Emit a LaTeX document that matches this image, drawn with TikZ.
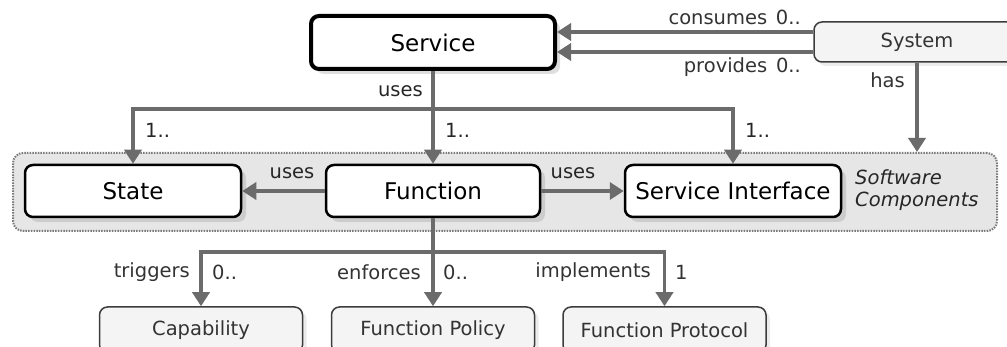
\documentclass[tikz,border=0pt]{standalone}
\usepackage{fontspec}
\setmainfont{DejaVu Sans}[ItalicFont=DejaVu Sans Oblique]
\usetikzlibrary{arrows.meta,shadows}

\definecolor{conngray}{HTML}{6B6B6B}
\definecolor{groupfill}{HTML}{E6E6E6}
\definecolor{groupline}{HTML}{7A7A7A}
\definecolor{leaffill}{HTML}{F4F4F4}
\definecolor{leafline}{HTML}{3C3C3C}
\definecolor{leaftext}{HTML}{333333}

\tikzset{
  bigtext/.style={font=\fontsize{23}{27}\selectfont},
  smalltext/.style={font=\fontsize{19.5}{23}\selectfont},
  mainbox/.style={bigtext, draw=black, line width=2.5pt, rounded corners=8pt,
    fill=white, inner sep=0pt, minimum height=52,
    drop shadow={shadow xshift=5pt, shadow yshift=-5pt, opacity=0.25}},
  topbox/.style={mainbox, line width=4pt, minimum width=244, minimum height=53},
  leafbox/.style={smalltext, draw=leafline, line width=1.5pt, rounded corners=8pt,
    fill=leaffill, text=leaftext, inner sep=0pt, minimum width=203, minimum height=40,
    drop shadow={shadow xshift=4pt, shadow yshift=-4pt, opacity=0.15}},
  groupbox/.style={draw=groupline, line width=2pt, dash pattern=on 1.5pt off 1.2pt,
    fill=groupfill, rounded corners=10pt, inner sep=0pt},
  conn/.style={draw=conngray, line width=3.5pt, -{Triangle[width=17pt,length=14pt]}},
  link/.style={draw=conngray, line width=3.5pt},
  lbl/.style={smalltext, text=leaftext, inner sep=0pt},
  darklbl/.style={lbl, text=black!85},
}

\begin{document}
\begin{tikzpicture}[x=1pt,y=-1pt]
\useasboundingbox (0,0) rectangle (1007,347);
\clip (0,0) rectangle (1007,347);

% group of software components
\node[groupbox, minimum width=984, minimum height=78] (sc) at (505,192) {};
\node[darklbl, align=left, font=\fontsize{19.5}{22}\selectfont\itshape, anchor=west]
  (sclabel) at (855,190) {Software\\Components};

% top level
\node[topbox] (svc) at (433,42.5) {Service};
\node[leafbox, minimum width=206] (sys) at (917,42) {System};

% components
\node[mainbox, minimum width=216] (state) at (133,191) {State};
\node[mainbox, minimum width=214] (fn) at (433,191) {Function};
\node[mainbox, minimum width=216] (si) at (733,191) {Service Interface};

% leaves (their lower edges run past the page)
\node[leafbox, minimum height=46] (cap) at (201,330) {Capability};
\node[leafbox, minimum height=46] (pol) at (433,330) {Function Policy};
\node[leafbox, minimum height=46] (prot) at (664.5,330) {Function Protocol};

% system relations
\draw[conn] ([yshift=10pt]sys.west) -- ([yshift=10pt]sys.west -| svc.east);
\draw[conn] ([yshift=-10pt]sys.west) -- ([yshift=-10pt]sys.west -| svc.east);
\node[lbl, anchor=east] (lcons) at (801,17) {consumes\hspace{0.45em}0..};
\node[lbl, anchor=east] (lprov) at (801,67) {provides\hspace{0.45em}0..};
\draw[conn] (sys.south) -- (sys.south |- sc.north);
\node[lbl, anchor=east] (lhas) at (905,80) {has};

% service uses its components
\coordinate (j1) at (433,109);
\draw[link] (svc.south) -- (j1);
\draw[conn] (j1) -| (state.north);
\draw[conn] (j1) -| (si.north);
\draw[conn] (j1) -- (fn.north);
\node[darklbl, anchor=east] (luses) at (423,91) {uses};
\node[darklbl, anchor=west] (m1) at (145,130) {1..};
\node[darklbl, anchor=west] (m2) at (445,130) {1..};
\node[darklbl, anchor=west] (m3) at (745,130) {1..};

% function uses state and interface
\draw[conn] (fn.west) -- (state.east);
\draw[conn] (fn.east) -- (si.west);
\node[darklbl] (lu1) at (292,173) {uses};
\node[darklbl] (lu2) at (573,173) {uses};

% function relations to leaves
\coordinate (j2) at (433,252);
\draw[link] (fn.south) -- (j2);
\draw[conn] (j2) -- (pol.north);
\draw[conn] (j2) -| (cap.north);
\draw[conn] (j2) -| (prot.north);
\node[lbl, anchor=east] (ltrig) at (190,272) {triggers};
\node[lbl, anchor=west] (m4) at (212,272) {0..};
\node[lbl, anchor=east] (lenf) at (421,272) {enforces};
\node[lbl, anchor=west] (m5) at (443,272) {0..};
\node[lbl, anchor=east] (limpl) at (651,272) {implements};
\node[lbl, anchor=west] (m6) at (675,272) {1};
\end{tikzpicture}
\end{document}
